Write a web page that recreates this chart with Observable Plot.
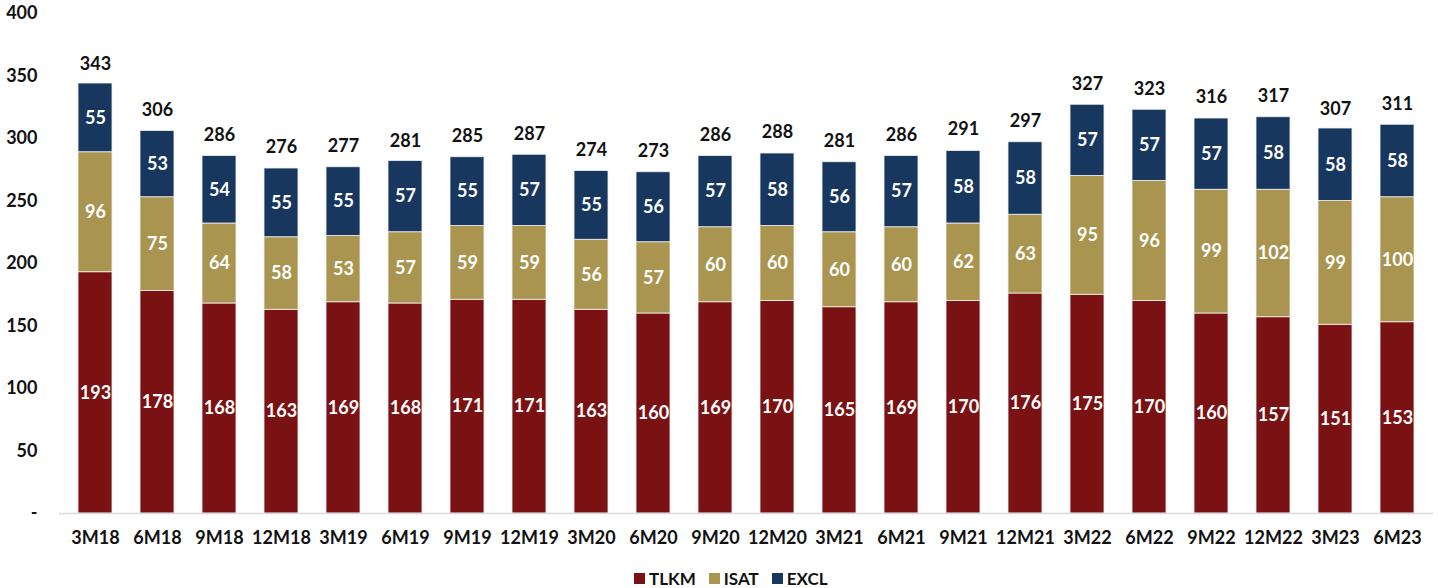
<!DOCTYPE html>
<html>
<head>
<meta charset="utf-8">
<script src="https://cdn.jsdelivr.net/npm/d3@7"></script>
<script src="https://cdn.jsdelivr.net/npm/@observablehq/plot@0.6"></script>
<style>
  body { margin: 0; background: #fff; font-family: Lato, "Open Sans", sans-serif; }
  #wrap { position: relative; width: 1438px; height: 588px; }
  #legend { position: absolute; left: 634px; top: 568px; display: flex; align-items: center; font-weight: bold; font-size: 17px; color: #111; }
  #legend .item { display: flex; align-items: center; margin-right: 13px; }
  #legend .sw { width: 11px; height: 11px; margin-right: 4px; }
</style>
</head>
<body>
<div id="wrap">
  <div id="chart"></div>
  <div id="legend"></div>
</div>
<script>
const periods = ["3M18","6M18","9M18","12M18","3M19","6M19","9M19","12M19","3M20","6M20","9M20","12M20","3M21","6M21","9M21","12M21","3M22","6M22","9M22","12M22","3M23","6M23"];
const series = ["TLKM","ISAT","EXCL"];
const colors = ["#7a1214","#a99550","#18375f"];
const tlkm = [193,178,168,163,169,168,171,171,163,160,169,170,165,169,170,176,175,170,160,157,151,153];
const isat = [96,75,64,58,53,57,59,59,56,57,60,60,60,60,62,63,95,96,99,102,99,100];
const excl = [55,53,54,55,55,57,55,57,55,56,57,58,56,57,58,58,57,57,57,58,58,58];
const totals = [343,306,286,276,277,281,285,287,274,273,286,288,281,286,291,297,327,323,316,317,307,311];
const yTicks = [0,50,100,150,200,250,300,350,400];

const values = [tlkm, isat, excl];
const rows = [];
periods.forEach((p, i) => {
  series.forEach((s, j) => rows.push({period: p, series: s, value: values[j][i]}));
});
const totalRows = periods.map((p, i) => ({period: p, total: totals[i]}));

const font = "Lato, 'Open Sans', sans-serif";
const chart = Plot.plot({
  width: 1438,
  height: 560,
  marginTop: 13,
  marginBottom: 47,
  marginLeft: 59,
  marginRight: 5,
  style: {fontFamily: font, fontSize: "18px", fontWeight: "bold", color: "#111"},
  x: {domain: periods, paddingInner: 0.456, paddingOuter: 0.228, label: null, tickSize: 0, tickPadding: 18},
  y: {domain: [0, 400], ticks: yTicks, label: null, tickSize: 0, tickPadding: 22,
      tickFormat: d => d === 0 ? "-" : d},
  color: {domain: series, range: colors},
  marks: [
    Plot.barY(rows, {x: "period", y: "value", fill: "series", stroke: "#f2f2f2", strokeWidth: 0.8}),
    Plot.ruleY([0], {stroke: "#d9d9d9", strokeWidth: 1.5}),
    Plot.text(rows, Plot.stackY({x: "period", y: "value", z: "series", text: d => d.value,
      fill: "white", fontSize: 18, fontWeight: "bold"})),
    Plot.text(totalRows, {x: "period", y: "total", text: d => d.total, dy: -21,
      fill: "#111", fontSize: 18, fontWeight: "bold"})
  ]
});
document.getElementById("chart").append(chart);

const legend = document.getElementById("legend");
series.forEach((s, j) => {
  const it = document.createElement("div");
  it.className = "item";
  it.innerHTML = `<span class="sw" style="background:${colors[j]}"></span><span>${s}</span>`;
  legend.append(it);
});
</script>
</body>
</html>
